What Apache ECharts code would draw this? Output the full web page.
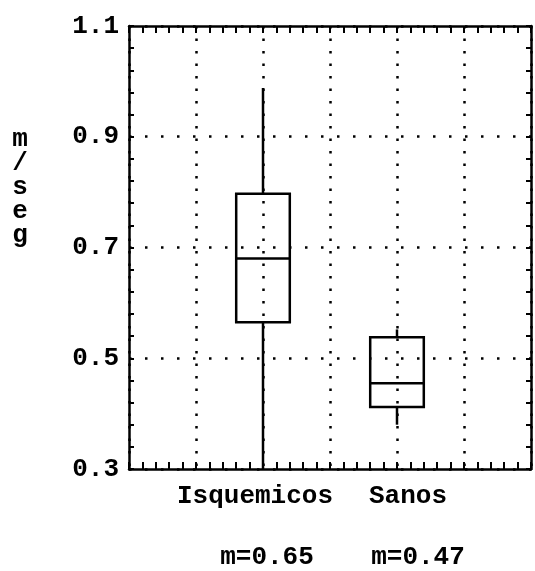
<!DOCTYPE html>
<html>
<head>
<meta charset="utf-8">
<script src="https://cdn.jsdelivr.net/npm/echarts@6/dist/echarts.min.js"></script>
<style>html,body{margin:0;padding:0;background:#fff}#c{width:535px;height:571px}</style>
</head>
<body>
<div id="c"></div>
<script>
// ---- data ----
var categories = ['Isquemicos', 'Sanos'];
var slots = [2, 4];               // position of each group on the 0..6 x scale
var mins    = [0.30, 0.38];
var q1s     = [0.565, 0.412];
var medians = [0.68, 0.455];
var q3s     = [0.797, 0.538];
var maxs    = [0.988, 0.552];
var meanLabels = ['m=0.65', 'm=0.47'];
var yTicks = [0.3, 0.5, 0.7, 0.9, 1.1];
var yTitle = 'm/seg';

var FONT = 'Liberation Mono';
var data = categories.map(function (c, i) {
  return [slots[i], mins[i], q1s[i], medians[i], q3s[i], maxs[i]];
});

// label horizontal nudges (style only)
var nameShift = [-8, 11];
var meanShift = [4, 21];
function pad(d) { return d >= 0 ? [0, 0, 0, 2 * d] : [0, -2 * d, 0, 0]; }
var rich = {};
categories.forEach(function (c, i) {
  rich['n' + i] = {fontFamily: FONT, fontWeight: 'bold', fontSize: 26, lineHeight: 30, color: '#000', padding: pad(nameShift[i])};
  rich['m' + i] = {fontFamily: FONT, fontWeight: 'bold', fontSize: 26, lineHeight: 92, color: '#000', padding: pad(meanShift[i])};
});

var chart = echarts.init(document.getElementById('c'), null, {renderer: 'canvas'});
var axisLine = {show: true, onZero: false, lineStyle: {color: '#000', width: 2.5}};
var vDots = {show: true, lineStyle: {color: '#000', width: 2.5, type: [2.5, 10]}};
var hDots = {show: true, lineStyle: {color: '#000', width: 2.5, type: [2.5, 13.5]}};

function xAxisDef(pos, labels) {
  return {
    type: 'value', position: pos, min: 0, max: 6, interval: 1,
    axisLine: axisLine,
    axisTick: {show: true, inside: true, length: 7, lineStyle: {color: '#000', width: 2}},
    minorTick: {show: true, splitNumber: 5, length: 7, lineStyle: {color: '#000', width: 2}},
    splitLine: pos === 'bottom' ? vDots : {show: false},
    axisLabel: labels ? {
      show: true, margin: 12, color: '#000',
      formatter: function (v) {
        var i = slots.indexOf(Math.round(v));
        if (i < 0 || Math.abs(v - slots[i]) > 1e-6) return '';
        return '{n' + i + '|' + categories[i] + '}\n{m' + i + '|' + meanLabels[i] + '}';
      },
      rich: rich
    } : {show: false}
  };
}
function yAxisDef(pos, labels) {
  return {
    type: 'value', position: pos, min: 0.3, max: 1.1, interval: 0.2,
    name: labels ? yTitle.split('').join('\n') : '',
    nameLocation: 'middle', nameRotate: 0, nameGap: 109,
    nameTextStyle: {fontFamily: FONT, fontWeight: 'bold', fontSize: 26, lineHeight: 24, color: '#000',
      align: 'center', verticalAlign: 'bottom'},
    axisLine: axisLine,
    axisTick: {show: true, inside: true, length: 5, lineStyle: {color: '#000', width: 2}},
    minorTick: {show: true, splitNumber: 5, length: 5, lineStyle: {color: '#000', width: 2}},
    splitLine: labels ? hDots : {show: false},
    axisLabel: labels ? {
      show: true, margin: 10, color: '#000', fontFamily: FONT, fontWeight: 'bold', fontSize: 26,
      formatter: function (v) { return v.toFixed(1); }
    } : {show: false}
  };
}

chart.setOption({
  animation: false,
  backgroundColor: '#fff',
  grid: {left: 129, right: 4, top: 26, bottom: 102, containLabel: false, outerBoundsMode: 'none'},
  xAxis: [xAxisDef('bottom', true), xAxisDef('top', false)],
  yAxis: [yAxisDef('left', true), yAxisDef('right', false)],
  series: [{
    type: 'custom',
    xAxisIndex: 0, yAxisIndex: 0,
    data: data,
    renderItem: function (params, api) {
      var x = api.value(0);
      var lo = api.coord([x, api.value(1)]);
      var b1 = api.coord([x, api.value(2)]);
      var md = api.coord([x, api.value(3)]);
      var b3 = api.coord([x, api.value(4)]);
      var hi = api.coord([x, api.value(5)]);
      var hw = api.size([1, 0])[0] * 0.4;
      var st = {stroke: '#000', lineWidth: 2.5, fill: null};
      return {type: 'group', children: [
        {type: 'line', shape: {x1: lo[0], y1: lo[1], x2: b1[0], y2: b1[1]}, style: st},
        {type: 'line', shape: {x1: b3[0], y1: b3[1], x2: hi[0], y2: hi[1]}, style: st},
        {type: 'rect', shape: {x: b3[0] - hw, y: b3[1], width: 2 * hw, height: b1[1] - b3[1]}, style: st},
        {type: 'line', shape: {x1: md[0] - hw, y1: md[1], x2: md[0] + hw, y2: md[1]}, style: st}
      ]};
    }
  }]
});
</script>
</body>
</html>
